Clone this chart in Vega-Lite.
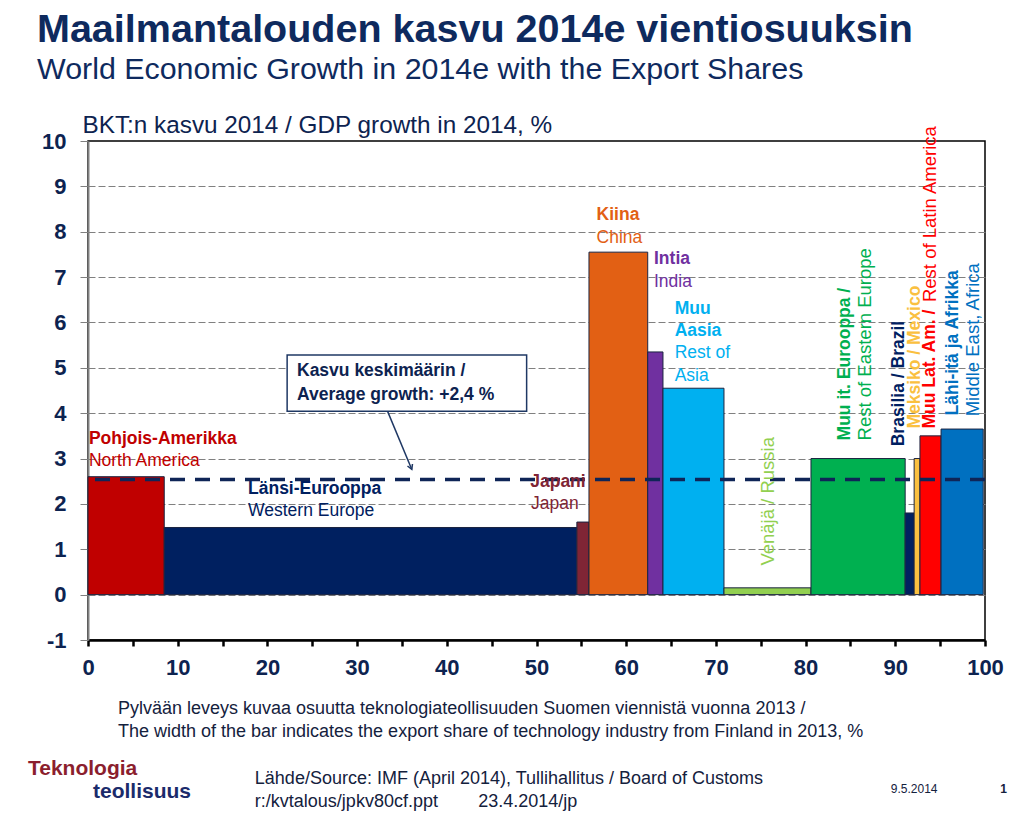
{
  "$schema": "https://vega.github.io/schema/vega-lite/v6.json",
  "autosize": {"type": "none"},
  "padding": {"left": 88, "top": 141, "right": 39, "bottom": 173},
  "width": 897,
  "height": 499,
  "background": "white",
  "config": {
    "font": "Liberation Sans",
    "view": {"stroke": "#000000", "strokeWidth": 1.5}
  },
  "title": {
    "text": "Maailmantalouden kasvu 2014e vientiosuuksin",
    "subtitle": "World Economic Growth in 2014e with the Export Shares",
    "anchor": "start",
    "frame": "group",
    "dx": -51,
    "offset": 27,
    "fontSize": 39.5,
    "fontWeight": "bold",
    "color": "#0E2A5E",
    "subtitleFontSize": 30.4,
    "subtitleColor": "#0E2A5E",
    "subtitlePadding": 4
  },
  "datasets": {
    "bars": [
      {"region": "Pohjois-Amerikka", "x0": 0, "x1": 8.5, "growth": 2.6},
      {"region": "Länsi-Eurooppa", "x0": 8.5, "x1": 54.5, "growth": 1.48},
      {"region": "Japani", "x0": 54.5, "x1": 55.85, "growth": 1.6},
      {"region": "Kiina", "x0": 55.85, "x1": 62.4, "growth": 7.55},
      {"region": "Intia", "x0": 62.4, "x1": 64.1, "growth": 5.35},
      {"region": "Muu Aasia", "x0": 64.1, "x1": 70.9, "growth": 4.55},
      {"region": "Venäjä", "x0": 70.9, "x1": 80.6, "growth": 0.15},
      {"region": "Muu it. Eurooppa", "x0": 80.6, "x1": 91.1, "growth": 3.0},
      {"region": "Brasilia", "x0": 91.1, "x1": 92.1, "growth": 1.8},
      {"region": "Meksiko", "x0": 92.1, "x1": 92.75, "growth": 3.0},
      {"region": "Muu Lat. Am.", "x0": 92.75, "x1": 95.1, "growth": 3.5},
      {"region": "Lähi-itä ja Afrikka", "x0": 95.1, "x1": 99.8, "growth": 3.65}
    ],
    "average": [{"label": "Kasvu keskimäärin", "growth": 2.54}],
    "labelsBoldH": [
      {"text": "Pohjois-Amerikka", "region": "Pohjois-Amerikka", "x": 0.1, "y": 3.44},
      {"text": "Länsi-Eurooppa", "region": "Länsi-Eurooppa", "x": 17.84, "y": 2.32},
      {"text": "Japani", "region": "Japani", "x": 49.3, "y": 2.49},
      {"text": "Kiina", "region": "Kiina", "x": 56.7, "y": 8.37},
      {"text": "Intia", "region": "Intia", "x": 63.1, "y": 7.4},
      {"text": "Muu", "region": "Muu Aasia", "x": 65.4, "y": 6.29},
      {"text": "Aasia", "region": "Muu Aasia", "x": 65.4, "y": 5.81}
    ],
    "labelsNormH": [
      {"text": "North America", "region": "Pohjois-Amerikka", "x": 0.1, "y": 2.94},
      {"text": "Western Europe", "region": "Länsi-Eurooppa", "x": 17.84, "y": 1.85},
      {"text": "Japan", "region": "Japani", "x": 49.4, "y": 1.99},
      {"text": "China", "region": "Kiina", "x": 56.7, "y": 7.86},
      {"text": "India", "region": "Intia", "x": 63.1, "y": 6.89},
      {"text": "Rest of", "region": "Muu Aasia", "x": 65.4, "y": 5.32},
      {"text": "Asia", "region": "Muu Aasia", "x": 65.4, "y": 4.83}
    ],
    "labelsBoldV": [
      {"text": "Muu it. Eurooppa /", "region": "Muu it. Eurooppa", "x": 84.4, "y": 3.4},
      {"text": "Brasilia / Brazil", "region": "Brasilia", "x": 90.4, "y": 3.27},
      {"text": "Meksiko / Mexico", "region": "Meksiko", "x": 92.2, "y": 3.66},
      {"text": "Muu Lat. Am. /", "region": "Muu Lat. Am.", "x": 93.9, "y": 3.66},
      {"text": "Lähi-itä ja Afrikka", "region": "Lähi-itä ja Afrikka", "x": 96.4, "y": 3.95}
    ],
    "labelsNormV": [
      {"text": "Venäjä / Russia", "region": "Venäjä", "x": 75.8, "y": 0.64},
      {"text": "Rest of Eastern Europe", "region": "Muu it. Eurooppa", "x": 86.6, "y": 3.4},
      {"text": "Rest of Latin America", "region": "Muu Lat. Am.", "x": 93.9, "y": 6.45},
      {"text": "Middle East, Africa", "region": "Lähi-itä ja Afrikka", "x": 98.7, "y": 3.93}
    ],
    "boxText": [
      {"text": "Kasvu keskimäärin /", "x": 23.3, "y": 4.94},
      {"text": "Average growth: +2,4 %", "x": 23.3, "y": 4.41}
    ],
    "notes": [
      {"text": "Pylvään leveys kuvaa osuutta teknologiateollisuuden Suomen viennistä vuonna 2013 /", "x": 3.34, "y": -2.52},
      {"text": "The width of the bar indicates the export share of technology industry from Finland in 2013, %", "x": 3.34, "y": -3.02},
      {"text": "Lähde/Source: IMF (April 2014), Tullihallitus / Board of Customs", "x": 18.6, "y": -4.06},
      {"text": "r:/kvtalous/jpkv80cf.ppt", "x": 18.6, "y": -4.57},
      {"text": "23.4.2014/jp", "x": 43.5, "y": -4.57}
    ],
    "logoTop": [{"text": "Teknologia", "x": -6.69, "y": -3.85}],
    "logoBottom": [{"text": "teollisuus", "x": 0.56, "y": -4.34}],
    "dateNote": [{"text": "9.5.2014", "x": 89.5, "y": -4.28}],
    "pageNote": [{"text": "1", "x": 101.7, "y": -4.28}]
  },
  "layer": [
    {
      "data": {"name": "bars"},
      "mark": {"type": "rect", "stroke": "#1B2440", "strokeWidth": 1},
      "encoding": {
        "x": {
          "field": "x0", "type": "quantitative",
          "scale": {"domain": [0, 100], "nice": false, "zero": false},
          "axis": {
            "values": [0,2.5,5,7.5,10,12.5,15,17.5,20,22.5,25,27.5,30,32.5,35,37.5,40,42.5,45,47.5,50,52.5,55,57.5,60,62.5,65,67.5,70,72.5,75,77.5,80,82.5,85,87.5,90,92.5,95,97.5,100],
            "labelExpr": "datum.value % 10 === 0 ? datum.label : ''",
            "title": null,
            "grid": false,
            "labelOverlap": false,
            "labelFlush": false,
            "labelFontSize": 22,
            "labelFontWeight": "bold",
            "labelColor": "#0D2350",
            "labelPadding": 11,
            "domainColor": "#000000",
            "domainWidth": 2.5,
            "tickColor": "#000000",
            "tickWidth": 2.5,
            "tickSize": 6
          }
        },
        "x2": {"field": "x1"},
        "y": {
          "field": "growth", "type": "quantitative",
          "scale": {"domain": [-1, 10], "nice": false, "zero": false},
          "axis": {
            "values": [-1,0,1,2,3,4,5,6,7,8,9,10],
            "labelExpr": "'' + datum.value",
            "title": "BKT:n kasvu 2014 / GDP growth in 2014, %",
            "titleAngle": 0,
            "titleX": -6,
            "titleY": -9,
            "titleAlign": "left",
            "titleBaseline": "alphabetic",
            "titleFontSize": 24.3,
            "titleFontWeight": "normal",
            "titleColor": "#0D2350",
            "labelFontSize": 22,
            "labelFontWeight": "bold",
            "labelColor": "#0D2350",
            "labelPadding": 14,
            "tickSize": 8,
            "tickColor": "#808080",
            "domainColor": "#808080",
            "domainWidth": 2,
            "grid": true,
            "gridDash": [7, 3],
            "gridColor": "#808080",
            "gridWidth": 1,
            "gridOpacity": {"condition": {"test": "datum.value >= 10 || datum.value <= -1", "value": 0}, "value": 1}
          }
        },
        "y2": {"datum": 0},
        "color": {
          "field": "region", "type": "nominal",
          "scale": {
            "domain": ["Pohjois-Amerikka","Länsi-Eurooppa","Japani","Kiina","Intia","Muu Aasia","Venäjä","Muu it. Eurooppa","Brasilia","Meksiko","Muu Lat. Am.","Lähi-itä ja Afrikka"],
            "range": ["#C00000","#002060","#7F2535","#E26014","#7030A0","#00B0F0","#92D050","#00B050","#002060","#FAC040","#FF0000","#0070C0"]
          },
          "legend": null
        }
      }
    },
    {
      "data": {"name": "average"},
      "mark": {"type": "rule", "stroke": "#0F2557", "strokeWidth": 3.5, "strokeDash": [15, 10]},
      "encoding": {"y": {"field": "growth", "type": "quantitative"}}
    },
    {
      "data": {"name": "average"},
      "mark": {"type": "rect", "fill": "white", "stroke": "#1F3864", "strokeWidth": 1.5},
      "encoding": {
        "x": {"datum": 22.2}, "x2": {"datum": 48.9},
        "y": {"datum": 5.28}, "y2": {"datum": 4.04}
      }
    },
    {
      "data": {"name": "boxText"},
      "mark": {"type": "text", "align": "left", "baseline": "middle", "fontSize": 17.5, "fontWeight": "bold", "color": "#0D2350"},
      "encoding": {
        "x": {"field": "x", "type": "quantitative"},
        "y": {"field": "y", "type": "quantitative"},
        "text": {"field": "text"}
      }
    },
    {
      "data": {"name": "average"},
      "mark": {"type": "rule", "stroke": "#1F3864", "strokeWidth": 1.5},
      "encoding": {
        "x": {"datum": 33.4}, "x2": {"datum": 36.1},
        "y": {"datum": 4.04}, "y2": {"datum": 2.76}
      }
    },
    {
      "data": {"name": "average"},
      "mark": {"type": "point", "shape": "M-0.9,-1.6L0,0L0.9,-1.6", "filled": false, "stroke": "#1F3864", "strokeWidth": 1.5, "size": 36, "angle": 337.5, "opacity": 1},
      "encoding": {"x": {"datum": 36.1}, "y": {"datum": 2.76}}
    },
    {
      "data": {"name": "labelsBoldH"},
      "mark": {"type": "text", "align": "left", "baseline": "middle", "fontSize": 17.5, "fontWeight": "bold"},
      "encoding": {
        "x": {"field": "x", "type": "quantitative"},
        "y": {"field": "y", "type": "quantitative"},
        "text": {"field": "text"},
        "color": {"field": "region", "type": "nominal", "legend": null}
      }
    },
    {
      "data": {"name": "labelsNormH"},
      "mark": {"type": "text", "align": "left", "baseline": "middle", "fontSize": 17.5},
      "encoding": {
        "x": {"field": "x", "type": "quantitative"},
        "y": {"field": "y", "type": "quantitative"},
        "text": {"field": "text"},
        "color": {"field": "region", "type": "nominal", "legend": null}
      }
    },
    {
      "data": {"name": "labelsBoldV"},
      "mark": {"type": "text", "align": "left", "baseline": "middle", "fontSize": 17.5, "fontWeight": "bold", "angle": 270},
      "encoding": {
        "x": {"field": "x", "type": "quantitative"},
        "y": {"field": "y", "type": "quantitative"},
        "text": {"field": "text"},
        "color": {"field": "region", "type": "nominal", "legend": null}
      }
    },
    {
      "data": {"name": "labelsNormV"},
      "mark": {"type": "text", "align": "left", "baseline": "middle", "fontSize": 18.5, "angle": 270},
      "encoding": {
        "x": {"field": "x", "type": "quantitative"},
        "y": {"field": "y", "type": "quantitative"},
        "text": {"field": "text"},
        "color": {"field": "region", "type": "nominal", "legend": null}
      }
    },
    {
      "data": {"name": "notes"},
      "mark": {"type": "text", "align": "left", "baseline": "middle", "fontSize": 18, "color": "#14213D"},
      "encoding": {
        "x": {"field": "x", "type": "quantitative"},
        "y": {"field": "y", "type": "quantitative"},
        "text": {"field": "text"}
      }
    },
    {
      "data": {"name": "logoTop"},
      "mark": {"type": "text", "align": "left", "baseline": "middle", "fontSize": 21, "fontWeight": "bold", "color": "#8B1E2E"},
      "encoding": {
        "x": {"field": "x", "type": "quantitative"},
        "y": {"field": "y", "type": "quantitative"},
        "text": {"field": "text"}
      }
    },
    {
      "data": {"name": "logoBottom"},
      "mark": {"type": "text", "align": "left", "baseline": "middle", "fontSize": 21, "fontWeight": "bold", "color": "#1B2B6B"},
      "encoding": {
        "x": {"field": "x", "type": "quantitative"},
        "y": {"field": "y", "type": "quantitative"},
        "text": {"field": "text"}
      }
    },
    {
      "data": {"name": "dateNote"},
      "mark": {"type": "text", "align": "left", "baseline": "middle", "fontSize": 12, "color": "#14213D"},
      "encoding": {
        "x": {"field": "x", "type": "quantitative"},
        "y": {"field": "y", "type": "quantitative"},
        "text": {"field": "text"}
      }
    },
    {
      "data": {"name": "pageNote"},
      "mark": {"type": "text", "align": "left", "baseline": "middle", "fontSize": 12, "fontWeight": "bold", "color": "#14213D"},
      "encoding": {
        "x": {"field": "x", "type": "quantitative"},
        "y": {"field": "y", "type": "quantitative"},
        "text": {"field": "text"}
      }
    }
  ]
}
